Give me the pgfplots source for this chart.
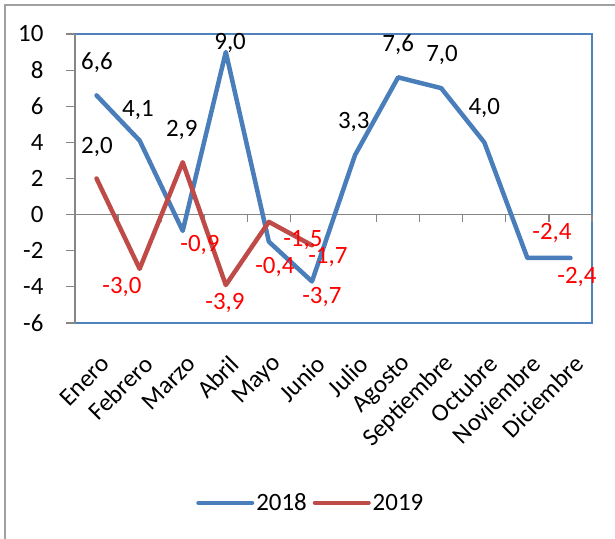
\documentclass[border=0pt]{standalone}
\usepackage{pgfplots}
\pgfplotsset{compat=1.18}
\usepackage{fontspec}
\setmainfont{Carlito}
\definecolor{sblue}{RGB}{74,126,187}
\definecolor{sred}{RGB}{190,75,72}
\definecolor{boxblue}{RGB}{79,129,189}
\definecolor{agray}{RGB}{134,134,134}
\definecolor{fgray}{RGB}{160,160,160}
\definecolor{lred}{RGB}{255,0,0}
\begin{document}
\begin{tikzpicture}[x=1bp,y=1bp,font=\fontsize{25}{30}\selectfont]
\useasboundingbox (0,0) rectangle (615,539);
\draw[fgray, line width=2bp] (5,0) -- (5,534) -- (615,534);
\begin{axis}[at={(75bp,216bp)}, anchor=south west, scale only axis,
  width=517bp, height=289bp,
  xmin=-0.5, xmax=11.5, ymin=-6, ymax=10, clip=false,
  axis line style={draw=none},
  xtick={0,...,11},
  xticklabels={Enero,Febrero,Marzo,Abril,Mayo,Junio,Julio,Agosto,Septiembre,Octubre,Noviembre,Diciembre},
  xticklabel style={rotate=45, anchor=east, xshift=-10bp, yshift=-26bp},
  major x tick style={draw=none},
  ytick={-6,-4,...,10},
  yticklabels={-6,-4,-2,0,2,4,6,8,10},
  ytick pos=left, tick align=outside, major tick length=9bp,
  y tick style={agray, line width=1.2bp},
  yticklabel style={xshift=-19bp},
  legend style={at={(0.456,-0.622)}, anchor=center, draw=none, fill=none,
    legend columns=2, /tikz/every even column/.append style={column sep=4bp},
    font=\fontsize{25}{30}\selectfont},
  legend image code/.code={\draw[#1, line width=4bp, line cap=round] (0bp,0bp) -- (54bp,0bp);},
]
\draw[boxblue, line width=1.5bp] (rel axis cs:0,0) -- (rel axis cs:1,0) -- (rel axis cs:1,1) -- (rel axis cs:0,1);
\draw[agray, line width=1.2bp] (rel axis cs:0,0) -- (rel axis cs:0,1);
\draw[agray, line width=1.2bp] (axis cs:-0.5,0) -- (axis cs:11.5,0);
\pgfplotsinvokeforeach{0.5,1.5,2.5,3.5,4.5,5.5,6.5,7.5,8.5,9.5,10.5,11.5}{\draw[agray, line width=1.2bp] (axis cs:#1,0) -- (axis cs:#1,-0.4);}
\addplot[sblue, line width=4.5bp, line cap=round, line join=round] coordinates {
 (0,6.6) (1,4.1) (2,-0.9) (3,9.0) (4,-1.5) (5,-3.7) (6,3.3) (7,7.6) (8,7.0) (9,4.0) (10,-2.4) (11,-2.4)};
\addlegendentry{2018}
\addplot[sred, line width=4.5bp, line cap=round, line join=round] coordinates {
 (0,2.0) (1,-3.0) (2,2.9) (3,-3.9) (4,-0.4) (5,-1.7)};
\addlegendentry{2019}
\node at (axis cs:0.01,8.39) {6,6};
\node at (axis cs:0.96,5.79) {4,1};
\node at (axis cs:1.98,4.68) {2,9};
\node at (axis cs:0.01,3.74) {2,0};
\node at (axis cs:3.10,9.50) {9,0};
\node at (axis cs:5.97,5.13) {3,3};
\node at (axis cs:7.00,9.39) {7,6};
\node at (axis cs:8.02,8.84) {7,0};
\node at (axis cs:9.00,5.90) {4,0};
\node[lred] at (axis cs:2.40,-1.68) {-0,9};
\node[lred] at (axis cs:0.59,-4.01) {-3,0};
\node[lred] at (axis cs:2.98,-4.89) {-3,9};
\node[lred] at (axis cs:4.14,-2.90) {-0,4};
\node[lred] at (axis cs:4.79,-1.41) {-1,5};
\node[lred] at (axis cs:5.37,-2.35) {-1,7};
\node[lred] at (axis cs:5.23,-4.56) {-3,7};
\node[lred] at (axis cs:10.57,-1.02) {-2,4};
\node[lred] at (axis cs:11.15,-3.45) {-2,4};
\end{axis}
\end{tikzpicture}
\end{document}
